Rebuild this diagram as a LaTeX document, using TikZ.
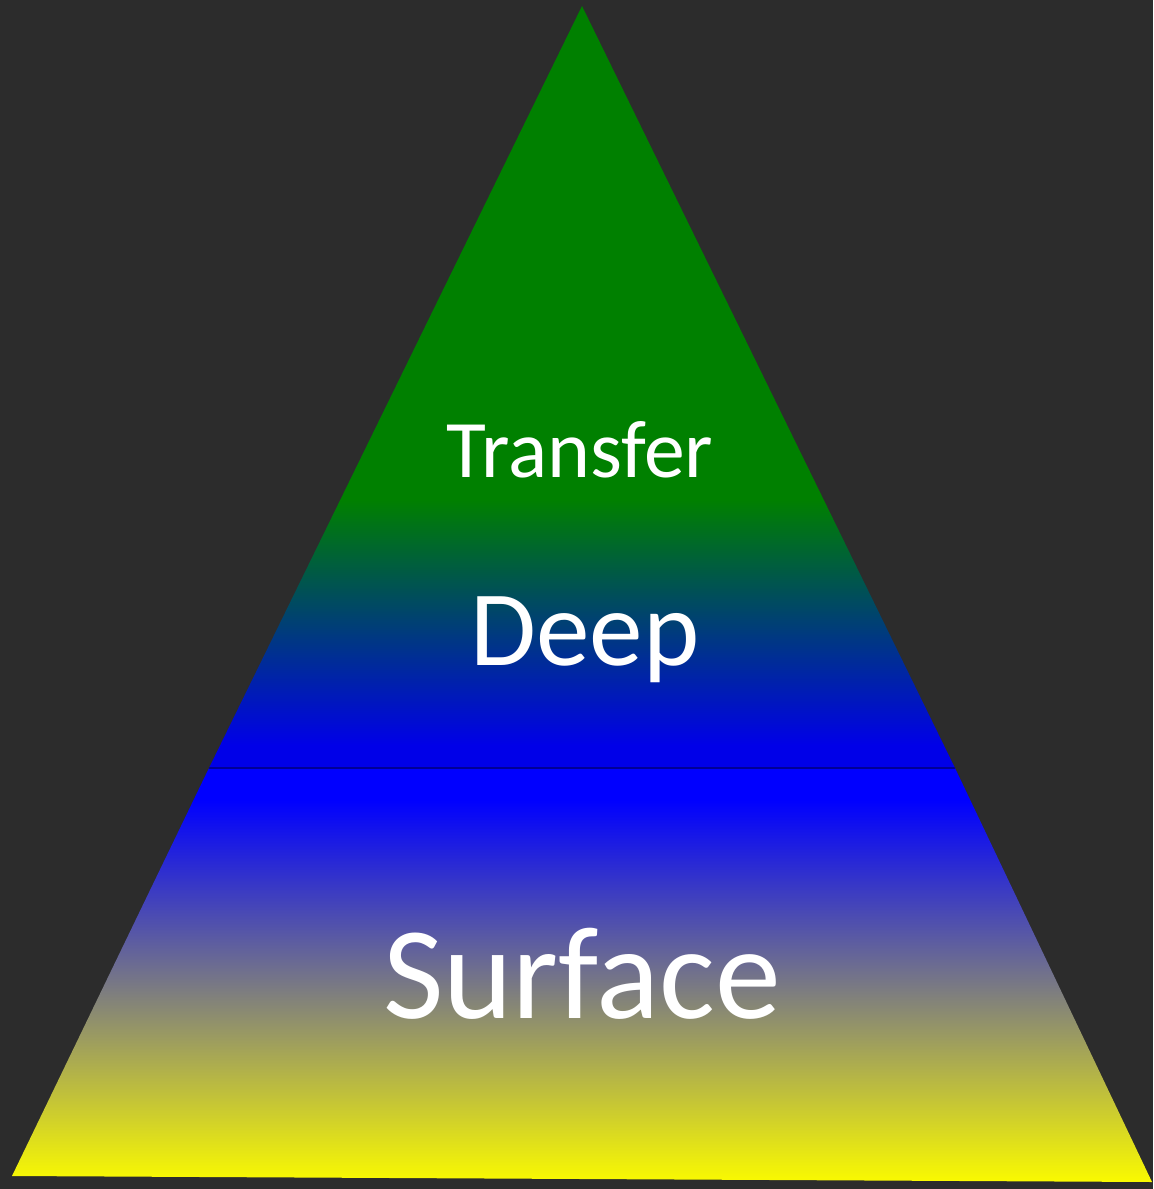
\documentclass[tikz,border=0pt]{standalone}
\usepackage{fontspec}
\setmainfont{Carlito}
\usetikzlibrary{calc}
\definecolor{board}{RGB}{44,44,44}
\definecolor{pgreen}{RGB}{0,128,0}
\definecolor{pdeep}{RGB}{0,0,232}
\definecolor{pblue}{RGB}{0,0,255}
\definecolor{pyellow}{RGB}{250,250,0}
\definecolor{pline}{RGB}{0,0,150}

\begin{document}
\begin{tikzpicture}[x=0.02cm,y=-0.02cm,
    tierlabel/.style={text=white,anchor=base,inner sep=0pt}]
  % ---- board
  \fill[board] (0,0) rectangle (1153,1189);
  \coordinate (A) at (582,6);
  \coordinate (L) at (12,1176);
  \coordinate (R) at (1152,1182);
  \coordinate (ML) at (209,768);
  \coordinate (MR) at (955,768);
  % ---- upper part: green to blue
  \begin{scope}
    \clip (A) -- (ML) -- (MR) -- cycle;
    \fill[pgreen] (0,0) rectangle (1153,500);
    \shade[top color=pgreen,bottom color=pdeep] (0,500) rectangle (1153,745);
    \fill[pdeep] (0,745) rectangle (1153,769);
  \end{scope}
  % ---- lower part: blue to yellow
  \begin{scope}
    \clip (ML) -- (L) -- (R) -- (MR) -- cycle;
    \fill[pblue] (0,767) rectangle (1153,800);
    \shade[top color=pblue,bottom color=pyellow] (0,800) rectangle (1153,1182);
  \end{scope}
  \draw[pline,line width=1.6pt] (ML) -- (MR);
  % ---- labels
  \node[tierlabel,font=\fontsize{46.5}{47}\selectfont] (transfer) at (580,477) {Transfer};
  \node[tierlabel,font=\fontsize{61}{62}\selectfont] (deep) at (585,665) {Deep};
  \node[tierlabel,font=\fontsize{75}{76}\selectfont] (surface) at (582,1018) {Surface};
\end{tikzpicture}
\end{document}
